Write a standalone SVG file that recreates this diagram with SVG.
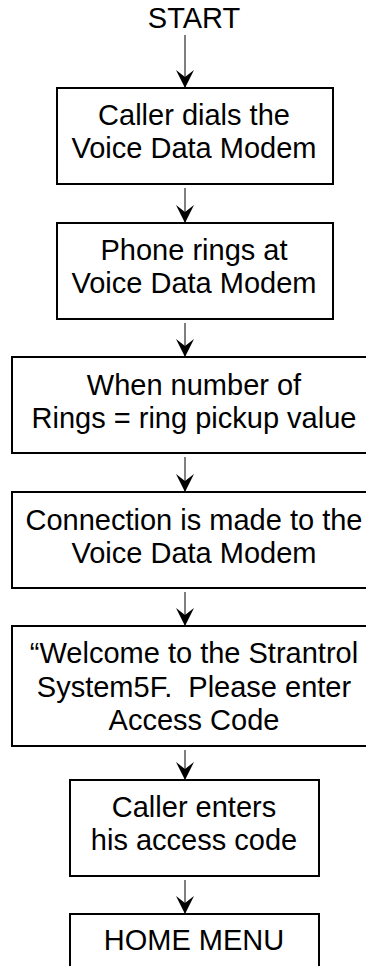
<svg xmlns="http://www.w3.org/2000/svg" width="366" height="966" viewBox="0 0 366 966">
<style>
.box{fill:#fff;stroke:#000;stroke-width:2}
.t{font-family:"Liberation Sans",Arial,sans-serif;font-size:29px;fill:#000;text-anchor:middle}
.c{stroke:#000;stroke-width:1;fill:none;marker-end:url(#ah)}
</style>
<defs>
<marker id="ah" markerUnits="userSpaceOnUse" markerWidth="20" markerHeight="20" viewBox="0 -10 20 20" refX="18" refY="0" orient="auto">
<path d="M0,-9 L18,0 L0,9 L7,0 Z" fill="#000"/>
</marker>
</defs>
<rect width="366" height="966" fill="#fff"/>
<g id="start"><text class="t" x="194" y="28">START</text></g>
<g id="n1"><rect class="box" x="57" y="88" width="276" height="96"/>
<text class="t" x="194" y="125">Caller dials the</text>
<text class="t" x="194" y="158">Voice Data Modem</text></g>
<g id="n2"><rect class="box" x="57" y="223" width="276" height="96"/>
<text class="t" x="194" y="260">Phone rings at</text>
<text class="t" x="194" y="293">Voice Data Modem</text></g>
<g id="n3"><rect class="box" x="12" y="357" width="366" height="96"/>
<text class="t" x="194" y="395">When number of</text>
<text class="t" x="194" y="428">Rings = ring pickup value</text></g>
<g id="n4"><rect class="box" x="12" y="492" width="366" height="96"/>
<text class="t" x="194" y="530">Connection is made to the</text>
<text class="t" x="194" y="563">Voice Data Modem</text></g>
<g id="n5"><rect class="box" x="12" y="626" width="366" height="120"/>
<text class="t" x="194" y="663">“Welcome to the Strantrol</text>
<text class="t" x="194" y="697" xml:space="preserve">System5F.  Please enter</text>
<text class="t" x="194" y="730">Access Code</text></g>
<g id="n6"><rect class="box" x="70" y="780" width="249" height="96"/>
<text class="t" x="194" y="817">Caller enters</text>
<text class="t" x="194" y="850">his access code</text></g>
<g id="n7"><rect class="box" x="70" y="914" width="249" height="70"/>
<text class="t" x="194" y="950">HOME MENU</text></g>
<g id="connectors">
<line class="c" x1="185" y1="35" x2="185" y2="88"/>
<line class="c" x1="185" y1="188" x2="185" y2="223"/>
<line class="c" x1="185" y1="323" x2="185" y2="357"/>
<line class="c" x1="185" y1="457" x2="185" y2="492"/>
<line class="c" x1="185" y1="592" x2="185" y2="626"/>
<line class="c" x1="185" y1="750" x2="185" y2="780"/>
<line class="c" x1="185" y1="880" x2="185" y2="914"/>
</g>
</svg>
